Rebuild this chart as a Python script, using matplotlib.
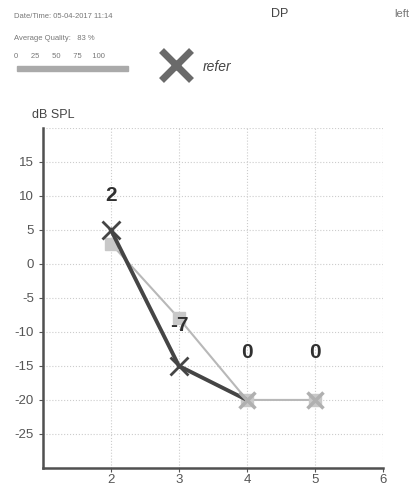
import matplotlib
matplotlib.use("Agg")
import matplotlib.pyplot as plt

plt.rcParams["axes.unicode_minus"] = False
plt.rcParams["font.family"] = ["Liberation Sans Narrow", "Liberation Sans", "DejaVu Sans"]

# frequency (kHz) and DP levels (dB SPL)
freqs = [2, 3, 4, 5]
dp_level = [5, -15, -20, -20]
noise_level = [3, -8, -20, -20]
snr_labels = ["2", "-7", "0", "0"]
snr_label_y = [10, -9, -13, -13]

x_ticks = [2, 3, 4, 5, 6]
y_ticks = [-25, -20, -15, -10, -5, 0, 5, 10, 15]

fig = plt.figure(figsize=(4.13, 4.9), dpi=100)
ax = fig.add_axes([0.104, 0.045, 0.823, 0.694])

ax.plot(freqs, noise_level, color="#b8b8b8", linewidth=1.5, zorder=2)
ax.plot(freqs, noise_level, linestyle="none", marker="s", markersize=8,
        color="#c8c8c8", zorder=3)
ax.plot(freqs[:3], dp_level[:3], color="#454545", linewidth=2.8, zorder=4)
ax.plot(freqs[:2], dp_level[:2], linestyle="none", marker="x", markersize=13,
        markeredgewidth=2, color="#454545", zorder=5)
ax.plot(freqs[2:], dp_level[2:], linestyle="none", marker="x", markersize=11,
        markeredgewidth=2.5, color="#b0b0b0", zorder=5)

for f, lab, ly in zip(freqs, snr_labels, snr_label_y):
    ax.text(f, ly, lab, ha="center", va="center", fontsize=15,
            fontweight="bold", color="#303030")

ax.set_xlim(1, 6)
ax.set_ylim(-30, 20)
ax.set_xticks(x_ticks)
ax.set_yticks(y_ticks)
ax.tick_params(labelsize=9.5, colors="#555555", length=3)
ax.tick_params(axis="x", pad=1.5)
ax.grid(True, linestyle=":", color="#cccccc", linewidth=0.8)
ax.set_yticks([20], minor=True)
ax.grid(True, which="minor", axis="y", linestyle=":", color="#cccccc", linewidth=0.8)
ax.tick_params(which="minor", length=0)
for s in ["top", "right"]:
    ax.spines[s].set_visible(False)
for s in ["left", "bottom"]:
    ax.spines[s].set_linewidth(1.8)
    ax.spines[s].set_color("#505050")

fig.text(0.077, 0.76, "dB SPL", fontsize=9, color="#444444")

# header block
fig.text(0.035, 0.963, "Date/Time: 05-04-2017 11:14", fontsize=5.5, color="#777777")
fig.text(0.035, 0.918, "Average Quality:   83 %", fontsize=5.5, color="#777777")
fig.text(0.035, 0.882, "0      25      50      75     100", fontsize=5.5, color="#777777")
fig.patches.append(plt.Rectangle((0.04, 0.856), 0.27, 0.010, transform=fig.transFigure,
                                 color="#aaaaaa", figure=fig))
fig.lines.append(plt.Line2D([0.425], [0.867], marker="x", markersize=22,
                            markeredgewidth=5, color="#6a6a6a",
                            transform=fig.transFigure, figure=fig))
fig.text(0.49, 0.855, "refer", fontsize=10, style="italic", color="#444444")
fig.text(0.655, 0.965, "DP", fontsize=9, color="#444444")
fig.text(0.955, 0.965, "left", fontsize=8, color="#777777")

fig.savefig("out.png", dpi=100)
